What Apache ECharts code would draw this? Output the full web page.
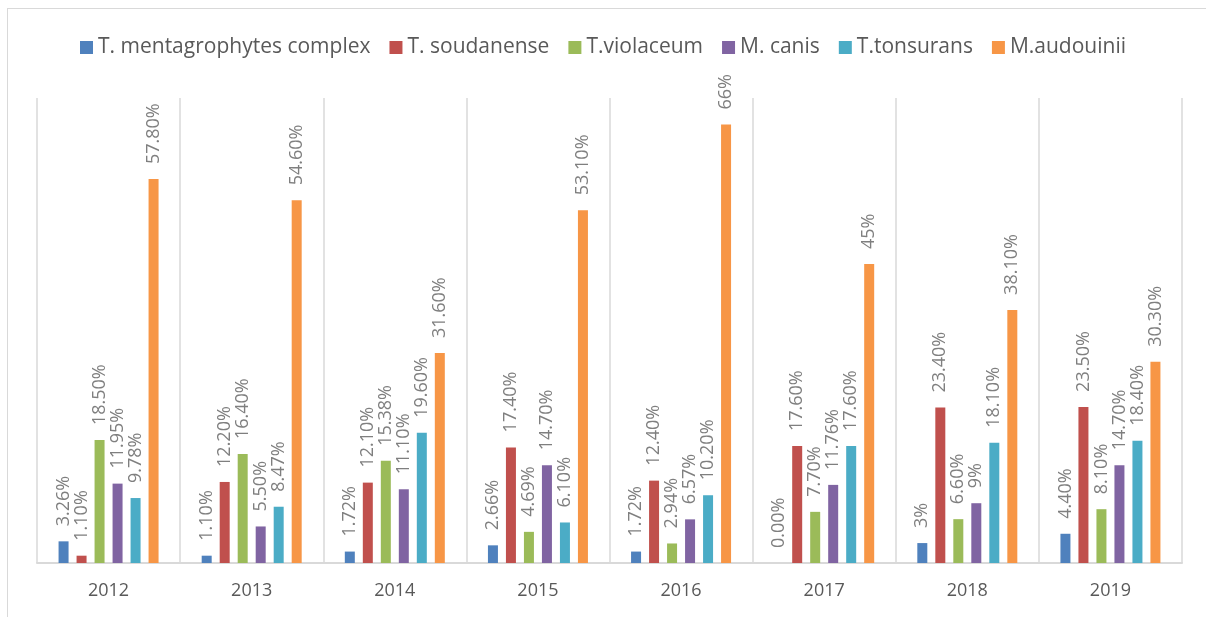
<!DOCTYPE html>
<html>
<head>
<meta charset="utf-8">
<script src="https://cdn.jsdelivr.net/npm/echarts@6/dist/echarts.min.js"></script>
<style>
  html, body { margin: 0; padding: 0; background: #fff; }
  #frame { position: absolute; left: 7px; top: 8px; width: 1210px; height: 620px; border: 1px solid #d9d9d9; box-sizing: border-box; }
  #main { position: absolute; left: 0; top: 0; width: 1206px; height: 617px; }
</style>
</head>
<body>
<div id="frame"></div>
<div id="main"></div>
<script>
// years on the x axis
const years = ['2012', '2013', '2014', '2015', '2016', '2017', '2018', '2019'];

const seriesNames = ['T. mentagrophytes complex', 'T. soudanense', 'T.violaceum', 'M. canis', 'T.tonsurans', 'M.audouinii'];
const colors = ['#4f81bd', '#c0504d', '#9bbb59', '#8064a2', '#4bacc6', '#f79646'];

// percentages per species
const mentagrophytes = [3.26, 1.10, 1.72, 2.66, 1.72, 0.00, 3, 4.40];
const soudanense = [1.10, 12.20, 12.10, 17.40, 12.40, 17.60, 23.40, 23.50];
const violaceum = [18.50, 16.40, 15.38, 4.69, 2.94, 7.70, 6.60, 8.10];
const canis = [11.95, 5.50, 11.10, 14.70, 6.57, 11.76, 9, 14.70];
const tonsurans = [9.78, 8.47, 19.60, 6.10, 10.20, 17.60, 18.10, 18.40];
const audouinii = [57.80, 54.60, 31.60, 53.10, 66, 45, 38.10, 30.30];

// label text as printed on the chart
const mentagrophytesLabels = ['3.26%', '1.10%', '1.72%', '2.66%', '1.72%', '0.00%', '3%', '4.40%'];
const soudanenseLabels = ['1.10%', '12.20%', '12.10%', '17.40%', '12.40%', '17.60%', '23.40%', '23.50%'];
const violaceumLabels = ['18.50%', '16.40%', '15.38%', '4.69%', '2.94%', '7.70%', '6.60%', '8.10%'];
const canisLabels = ['11.95%', '5.50%', '11.10%', '14.70%', '6.57%', '11.76%', '9%', '14.70%'];
const tonsuransLabels = ['9.78%', '8.47%', '19.60%', '6.10%', '10.20%', '17.60%', '18.10%', '18.40%'];
const audouiniiLabels = ['57.80%', '54.60%', '31.60%', '53.10%', '66%', '45%', '38.10%', '30.30%'];

const allValues = [mentagrophytes, soudanense, violaceum, canis, tonsurans, audouinii];
const allLabels = [mentagrophytesLabels, soudanenseLabels, violaceumLabels, canisLabels, tonsuransLabels, audouiniiLabels];

const textColor = '#595959';
const fontFamily = '"Open Sans", Lato, sans-serif';

const myChart = echarts.init(document.getElementById('main'));

const series = seriesNames.map((name, i) => ({
    name: name,
    type: 'bar',
    data: allValues[i],
    barWidth: 10,
    barGap: '80%',
    itemStyle: { color: colors[i] },
    label: {
        show: true,
        position: 'top',
        rotate: 90,
        align: 'left',
        verticalAlign: 'middle',
        distance: 15,
        color: '#7f7f7f',
        fontSize: 18,
        fontFamily: fontFamily,
        formatter: (p) => allLabels[i][p.dataIndex]
    }
}));

const options = {
    animation: false,
    color: colors,
    legend: {
        top: 32,
        left: 'center',
        itemWidth: 13,
        itemHeight: 13,
        itemGap: 19,
        icon: 'rect',
        textStyle: { color: textColor, fontSize: 21, fontFamily: fontFamily }
    },
    grid: { left: 37, right: 24, top: 98, bottom: 54 },
    xAxis: {
        type: 'category',
        data: years,
        axisLine: { lineStyle: { color: '#d9d9d9', width: 2 } },
        axisTick: { show: false },
        splitLine: { show: true, lineStyle: { color: '#d9d9d9', width: 1.5 } },
        axisLabel: { color: textColor, fontSize: 18, fontFamily: fontFamily, margin: 19 }
    },
    yAxis: {
        type: 'value',
        min: 0,
        max: 70,
        show: false,
        splitLine: { show: false }
    },
    series: series
};

myChart.setOption(options);
</script>
</body>
</html>
